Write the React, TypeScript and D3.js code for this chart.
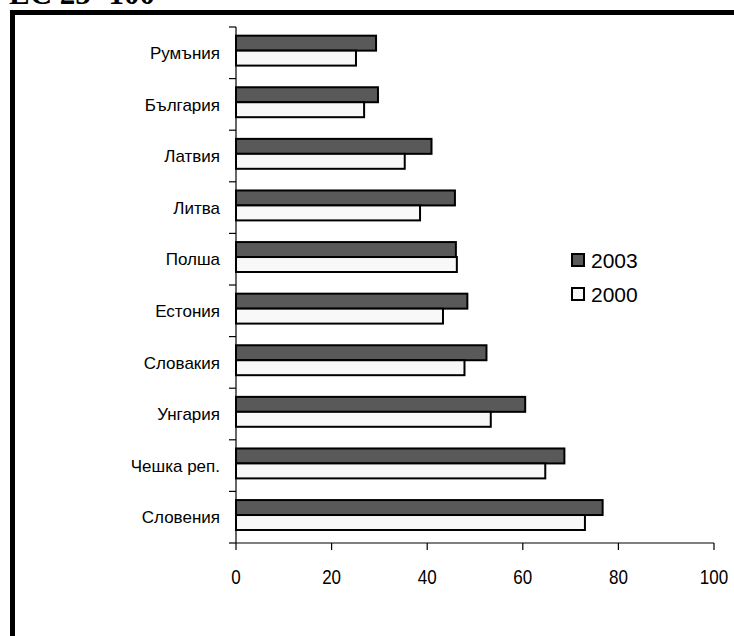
import React from "react";
import * as d3 from "d3";

// GDP per capita in PPS, EU-25 = 100
const countries = [
  "Румъния",
  "България",
  "Латвия",
  "Литва",
  "Полша",
  "Естония",
  "Словакия",
  "Унгария",
  "Чешка реп.",
  "Словения",
];
const values2003 = [29.3, 29.7, 40.9, 45.8, 46.0, 48.4, 52.4, 60.5, 68.7, 76.7];
const values2000 = [25.1, 26.8, 35.3, 38.5, 46.2, 43.3, 47.8, 53.3, 64.7, 73.0];
const seriesNames = ["2003", "2000"];
const xTicks = [0, 20, 40, 60, 80, 100];

const W = 734;
const H = 636;
const plot = { left: 236, right: 714, top: 27, bottom: 543 };
const fills: Record<string, string> = { "2003": "#595959", "2000": "#f8f8f8" };

export default function App() {
  const x = d3.scaleLinear().domain([0, 100]).range([plot.left, plot.right]);
  const y = d3
    .scaleBand<string>()
    .domain(countries)
    .range([plot.top, plot.bottom])
    .paddingInner(0.42)
    .paddingOuter(0.21)
    .align(0.4);
  const sub = d3.scaleBand<string>().domain(seriesNames).range([0, y.bandwidth()]);
  const step = (plot.bottom - plot.top) / countries.length;
  const boundaries = d3.range(countries.length + 1).map((i) => plot.top + i * step);
  const seriesValues: Record<string, number[]> = { "2003": values2003, "2000": values2000 };

  return (
    <svg
      width={W}
      height={H}
      style={{ position: "absolute", left: 0, top: 0, background: "#fff" }}
    >
      {/* heading, partly cut by the top edge */}
      <text
        x={9}
        y={4}
        fontFamily="'Liberation Serif', 'Times New Roman', serif"
        fontWeight="bold"
        fontSize={31}
        fill="#000"
      >
        ЕС 25=100
      </text>
      {/* frame */}
      <rect x={10} y={10} width={W - 10} height={5} fill="#000" />
      <rect x={10} y={10} width={5} height={H - 10} fill="#000" />

      {/* bars */}
      {countries.map((c, i) => (
        <g key={c}>
          {seriesNames.map((s) => (
            <rect
              key={s}
              x={x(0)}
              y={(y(c) as number) + (sub(s) as number)}
              width={x(seriesValues[s][i]) - x(0)}
              height={sub.bandwidth()}
              fill={fills[s]}
              stroke="#000"
              strokeWidth={2}
            />
          ))}
        </g>
      ))}

      {/* category axis */}
      <line x1={plot.left} x2={plot.left} y1={plot.top} y2={plot.bottom} stroke="#000" strokeWidth={1.2} />
      {boundaries.map((b, i) => (
        <line key={i} x1={plot.left - 7} x2={plot.left} y1={b} y2={b} stroke="#000" strokeWidth={1.2} />
      ))}
      {countries.map((c) => (
        <text
          key={c}
          x={plot.left - 16}
          y={plot.top + countries.indexOf(c) * step + step / 2}
          dy="0.36em"
          textAnchor="end"
          fontFamily="'Liberation Sans', Arial, sans-serif"
          fontSize={17}
          fill="#000"
        >
          {c}
        </text>
      ))}

      {/* value axis */}
      <line x1={plot.left} x2={plot.right} y1={plot.bottom} y2={plot.bottom} stroke="#000" strokeWidth={1.2} />
      {xTicks.map((t) => (
        <g key={t}>
          <line x1={x(t)} x2={x(t)} y1={plot.bottom} y2={plot.bottom + 7} stroke="#000" strokeWidth={1.2} />
          <text
            transform={`translate(${x(t)},${plot.bottom + 41}) scale(0.85,1)`}
            textAnchor="middle"
            fontFamily="'Liberation Sans', Arial, sans-serif"
            fontSize={20}
            fill="#000"
          >
            {t}
          </text>
        </g>
      ))}

      {/* legend */}
      {seriesNames.map((s, i) => (
        <g key={s} transform={`translate(572,${254 + i * 34})`}>
          <rect x={0} y={0} width={12} height={12} fill={fills[s]} stroke="#000" strokeWidth={2} />
          <text
            x={19}
            y={6}
            dy="0.36em"
            fontFamily="'Liberation Sans', Arial, sans-serif"
            fontSize={21}
            fill="#000"
          >
            {s}
          </text>
        </g>
      ))}
    </svg>
  );
}
